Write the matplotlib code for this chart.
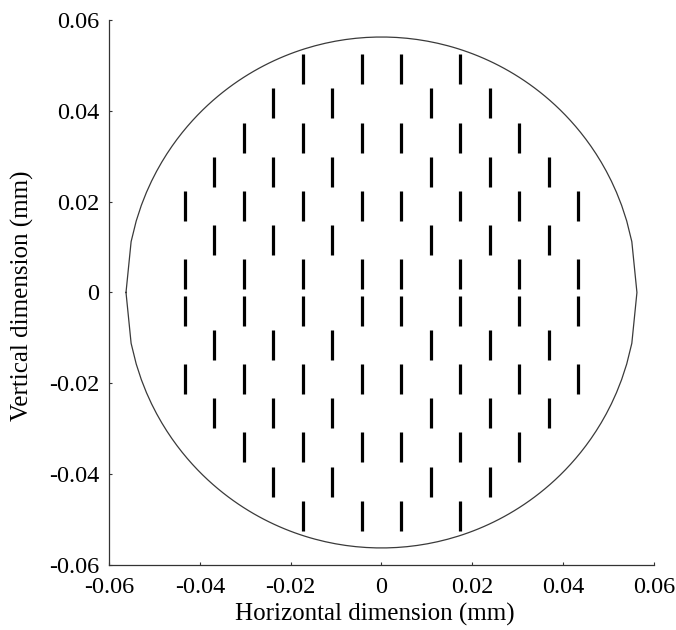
import numpy as np
import matplotlib
matplotlib.use("Agg")
import matplotlib.pyplot as plt

# aperture outline radius (mm), sampled along x like the original
aperture_radius = 0.05625
outline_samples = 101

# segment length (mm)
seg_len = 0.0066

# row heights (mm) and the x positions of segments in each row
row_y = [0.0492, 0.0417, 0.0341, 0.0266, 0.0191, 0.0116, 0.0041,
         -0.0041, -0.0116, -0.0191, -0.0266, -0.0341, -0.0417, -0.0492]

cols_a = [-0.0432, -0.0302, -0.0173, -0.0043, 0.0043, 0.0173, 0.0302, 0.0432]
cols_b = [-0.0368, -0.0239, -0.0108, 0.0108, 0.0239, 0.0368]
cols_top_a = [-0.0173, -0.0043, 0.0043, 0.0173]
cols_top_b = [-0.0239, -0.0108, 0.0108, 0.0239]
cols_mid_a = [-0.0302, -0.0173, -0.0043, 0.0043, 0.0173, 0.0302]

row_cols = [cols_top_a, cols_top_b, cols_mid_a, cols_b, cols_a, cols_b, cols_a,
            cols_a, cols_b, cols_a, cols_b, cols_mid_a, cols_top_b, cols_top_a]

ticks = [-0.06, -0.04, -0.02, 0, 0.02, 0.04, 0.06]
tick_labels = ["-0.06", "-0.04", "-0.02", "0", "0.02", "0.04", "0.06"]

plt.rcParams['font.family'] = ['Liberation Serif', 'DejaVu Serif']
plt.rcParams['axes.unicode_minus'] = False

fig = plt.figure(figsize=(6.76, 6.30), dpi=100)
ax = fig.add_axes([0.1612, 0.1032, 0.8062, 0.8651])

# outline: upper and lower halves from x samples
cx = np.linspace(-aperture_radius, aperture_radius, outline_samples)
cy = np.sqrt(np.clip(aperture_radius**2 - cx**2, 0, None))
ax.plot(np.concatenate([cx, cx[::-1]]), np.concatenate([cy, -cy[::-1]]),
        color='#3a3a3a', lw=0.9)

for y, xs in zip(row_y, row_cols):
    for x in xs:
        ax.plot([x, x], [y - seg_len / 2, y + seg_len / 2], color='black',
                lw=2.3, solid_capstyle='butt')

ax.set_xlim(-0.06, 0.06)
ax.set_ylim(-0.06, 0.06)
ax.set_xticks(ticks)
ax.set_xticklabels(tick_labels)
ax.set_yticks(ticks)
ax.set_yticklabels(tick_labels)

for side in ['top', 'right']:
    ax.spines[side].set_visible(False)
for side in ['left', 'bottom']:
    ax.spines[side].set_color('#333333')
    ax.spines[side].set_linewidth(0.9)

ax.tick_params(direction='in', length=2.5, width=0.8, color='#333333',
               labelsize=17.5, pad=7)
ax.tick_params(axis='x', pad=8.5)

ax.set_xlabel("Horizontal dimension (mm)", fontsize=18, va='center')
ax.set_ylabel("Vertical dimension (mm)", fontsize=18, va='center')
ax.xaxis.set_label_coords(0.488, -0.09)
ax.yaxis.set_label_coords(-0.158, 0.4945)

fig.savefig("out.png", dpi=100)
